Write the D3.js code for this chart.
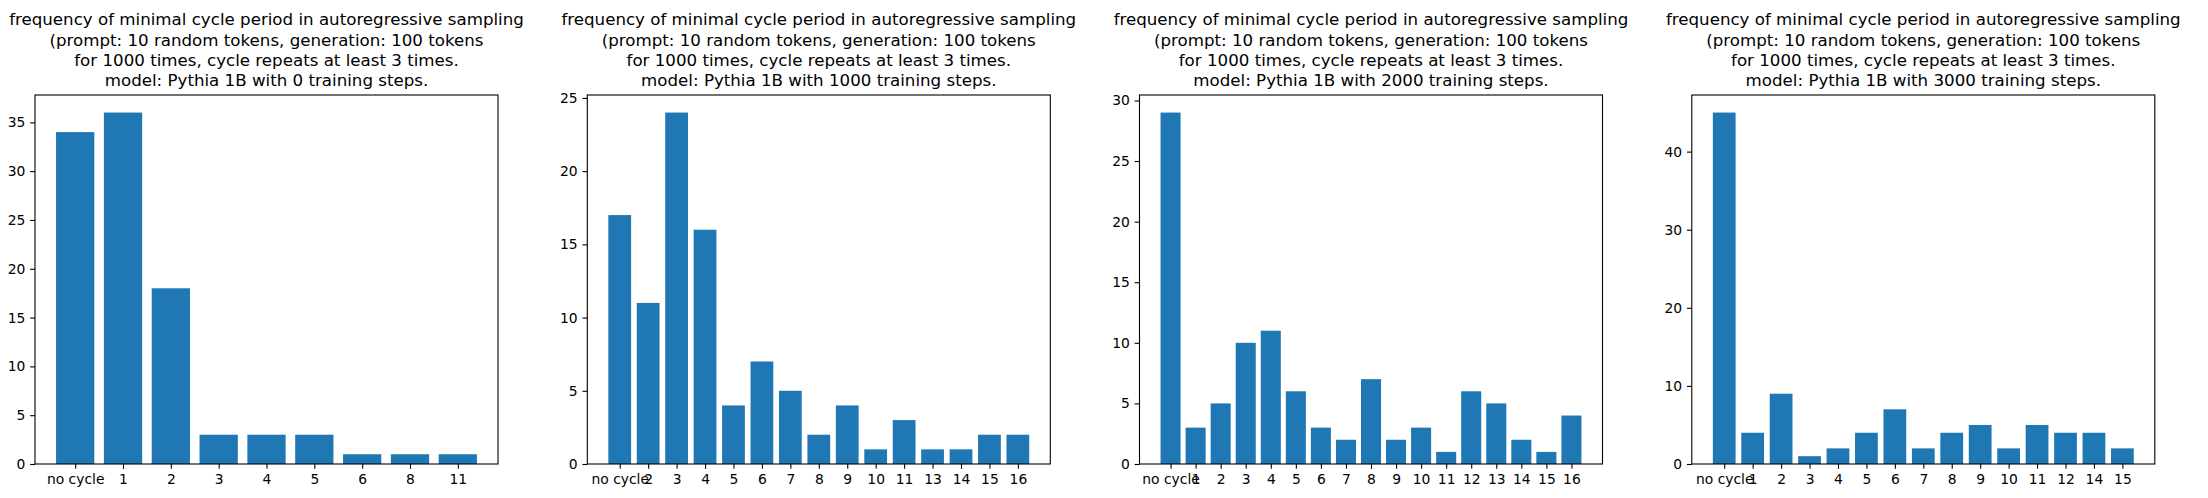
<!DOCTYPE html>
<html>
<head>
<meta charset="utf-8">
<script src="https://cdn.jsdelivr.net/npm/d3@7"></script>
<style>
  html, body { margin: 0; padding: 0; background: #ffffff; }
  svg { display: block; }
  text { font-family: "DejaVu Sans", sans-serif; fill: #000; }
</style>
</head>
<body>
<script>
// ---- data ----
const titleLines = [
  "frequency of minimal cycle period in autoregressive sampling",
  "(prompt: 10 random tokens, generation: 100 tokens",
  "for 1000 times, cycle repeats at least 3 times."
];
const trainingSteps = [0, 1000, 2000, 3000];

const categories0 = ["no cycle", "1", "2", "3", "4", "5", "6", "8", "11"];
const values0 = [34, 36, 18, 3, 3, 3, 1, 1, 1];
const yTicks0 = [0, 5, 10, 15, 20, 25, 30, 35];

const categories1 = ["no cycle", "2", "3", "4", "5", "6", "7", "8", "9", "10", "11", "13", "14", "15", "16"];
const values1 = [17, 11, 24, 16, 4, 7, 5, 2, 4, 1, 3, 1, 1, 2, 2];
const yTicks1 = [0, 5, 10, 15, 20, 25];

const categories2 = ["no cycle", "1", "2", "3", "4", "5", "6", "7", "8", "9", "10", "11", "12", "13", "14", "15", "16"];
const values2 = [29, 3, 5, 10, 11, 6, 3, 2, 7, 2, 3, 1, 6, 5, 2, 1, 4];
const yTicks2 = [0, 5, 10, 15, 20, 25, 30];

const categories3 = ["no cycle", "1", "2", "3", "4", "5", "6", "7", "8", "9", "10", "11", "12", "14", "15"];
const values3 = [45, 4, 9, 1, 2, 4, 7, 2, 4, 5, 2, 5, 4, 4, 2];
const yTicks3 = [0, 10, 20, 30, 40];

const panels = [
  { cats: categories0, vals: values0, ticks: yTicks0, steps: trainingSteps[0] },
  { cats: categories1, vals: values1, ticks: yTicks1, steps: trainingSteps[1] },
  { cats: categories2, vals: values2, ticks: yTicks2, steps: trainingSteps[2] },
  { cats: categories3, vals: values3, ticks: yTicks3, steps: trainingSteps[3] }
];

// ---- layout ----
const W = 2208, H = 498;
const lefts = [35, 587.3, 1139.5, 1691.8];
const axW = 463;
const axTop = 95, axBottom = 464;
const barColor = "#1f77b4";
const tickLen = 4.86, tickPad = 4.86;
const tickFont = 13.89, titleFont = 16.67;

const svg = d3.select("body").append("svg")
  .attr("width", W).attr("height", H)
  .attr("viewBox", `0 0 ${W} ${H}`);

panels.forEach((p, i) => {
  const left = lefts[i], right = left + axW;
  const n = p.cats.length;
  const span = (n - 1) + 0.8;
  const x = d3.scaleLinear()
    .domain([-0.4 - 0.05 * span, n - 1 + 0.4 + 0.05 * span])
    .range([left, right]);
  const ymax = d3.max(p.vals) * 1.05;
  const y = d3.scaleLinear().domain([0, ymax]).range([axBottom, axTop]);

  const g = svg.append("g");

  // bars
  g.selectAll("rect.bar").data(p.vals).enter().append("rect")
    .attr("class", "bar")
    .attr("x", (d, j) => x(j - 0.4))
    .attr("width", (d, j) => x(j + 0.4) - x(j - 0.4))
    .attr("y", d => y(d))
    .attr("height", d => y(0) - y(d))
    .attr("fill", barColor);

  // y axis
  const ya = g.append("g").attr("transform", `translate(${left},0)`)
    .call(d3.axisLeft(y).tickValues(p.ticks).tickFormat(d3.format("d"))
      .tickSize(tickLen).tickPadding(tickPad).tickSizeOuter(0));
  ya.select(".domain").remove();
  ya.selectAll("line").attr("stroke", "#000").attr("stroke-width", 1.1);
  ya.selectAll("text").attr("font-size", tickFont).attr("font-family", "DejaVu Sans").attr("fill", "#000");

  // x axis
  const xa = g.append("g").attr("transform", `translate(0,${axBottom})`)
    .call(d3.axisBottom(x).tickValues(d3.range(n)).tickFormat(j => p.cats[j])
      .tickSize(tickLen).tickPadding(tickPad).tickSizeOuter(0));
  xa.select(".domain").remove();
  xa.selectAll("line").attr("stroke", "#000").attr("stroke-width", 1.1);
  xa.selectAll("text").attr("font-size", tickFont).attr("font-family", "DejaVu Sans").attr("fill", "#000");

  // frame
  g.append("rect")
    .attr("x", left).attr("y", axTop)
    .attr("width", axW).attr("height", axBottom - axTop)
    .attr("fill", "none").attr("stroke", "#000").attr("stroke-width", 1.1);

  // title
  const lines = titleLines.concat([`model: Pythia 1B with ${p.steps} training steps.`]);
  const cx = (left + right) / 2;
  const lastBase = axTop - 8.8;
  const t = g.append("text")
    .attr("text-anchor", "middle")
    .attr("font-size", titleFont)
    .attr("font-family", "DejaVu Sans");
  lines.forEach((ln, k) => {
    t.append("tspan")
      .attr("x", cx)
      .attr("y", lastBase - (lines.length - 1 - k) * 20.3)
      .text(ln);
  });
});
</script>
</body>
</html>
